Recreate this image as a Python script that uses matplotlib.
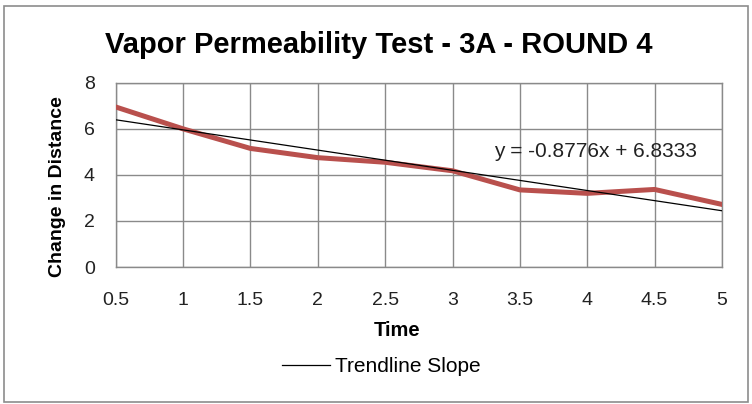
import matplotlib
matplotlib.use('Agg')
import matplotlib.pyplot as plt
from matplotlib.patches import FancyBboxPatch
import numpy as np

plt.rcParams['font.family'] = ['Liberation Sans', 'DejaVu Sans']

# measurements
time = [0.5, 1, 1.5, 2, 2.5, 3, 3.5, 4, 4.5, 5]
distance = [6.95, 6.0, 5.15, 4.75, 4.55, 4.18, 3.35, 3.2, 3.37, 2.72]

# linear trendline (as reported)
slope = -0.8776
intercept = 6.8333

fig = plt.figure(figsize=(7.52, 4.04), dpi=100)
ax = fig.add_axes([0.154, 0.339, 0.806, 0.456])

t = np.array(time)
ax.plot(time, distance, color='#B9504D', lw=3.6, solid_joinstyle='round', zorder=3)
ax.plot(time, slope * t + intercept, color='black', lw=0.9, zorder=4, label='Trendline Slope')

ax.set_xlim(0.5, 5)
ax.set_ylim(0, 8)
ax.set_xticks(time)
ax.set_xticklabels(['0.5', '1', '1.5', '2', '2.5', '3', '3.5', '4', '4.5', '5'])
ax.set_yticks([0, 2, 4, 6, 8])
ax.tick_params(length=0, labelsize=14, colors='#222222')
ax.tick_params(axis='x', pad=18)
ax.tick_params(axis='y', pad=15)
ax.grid(True, color='#8a8a8a', lw=1.0)
for s in ax.spines.values():
    s.set_color('#8a8a8a')
    s.set_linewidth(1.0)

ax.text(4.06, 5.0, 'y = -0.8776x + 6.8333', fontsize=15, color='#222222',
        ha='center', va='center', zorder=5)

fig.text(0.503, 0.888, 'Vapor Permeability Test - 3A - ROUND 4', fontsize=21,
         fontweight='bold', ha='center', va='center')
fig.text(0.076, 0.537, 'Change in Distance', fontsize=14, fontweight='bold',
         rotation=90, ha='center', va='center')
fig.text(0.528, 0.183, 'Time', fontsize=14.5, fontweight='bold', ha='center', va='center')

fig.legend(loc='center', bbox_to_anchor=(0.507, 0.092), frameon=False, fontsize=15,
           handlelength=2.3, handletextpad=0.25)

# chart border
fig.patches.append(FancyBboxPatch((0.005, 0.006), 0.99, 0.98, boxstyle='square,pad=0',
                                  transform=fig.transFigure, fill=False,
                                  edgecolor='#8c8c8c', lw=1.2))

fig.savefig('out.png', dpi=100, facecolor='white')
